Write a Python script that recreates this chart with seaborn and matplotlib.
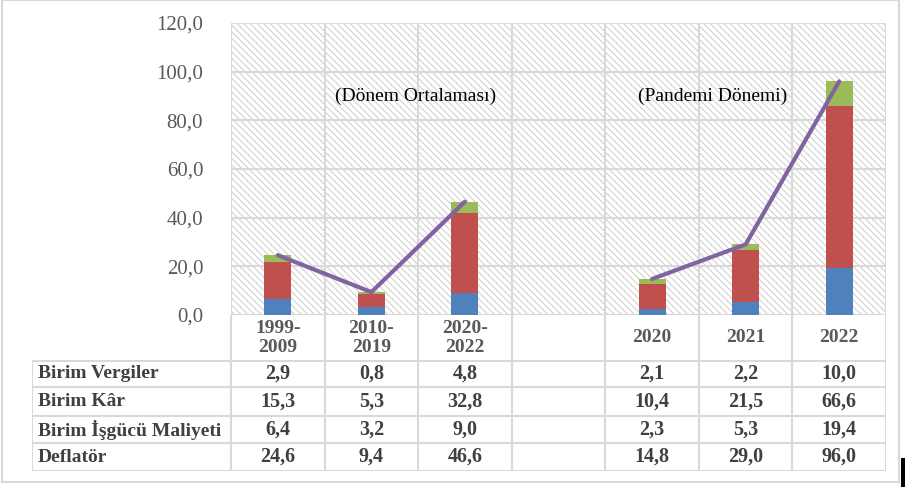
import seaborn as sns
import pandas as pd
import matplotlib.pyplot as plt
from matplotlib.patches import Rectangle

# data
categories = ["1999-\n2009", "2010-\n2019", "2020-\n2022", "", "2020", "2021", "2022"]
vergiler = [2.9, 0.8, 4.8, None, 2.1, 2.2, 10.0]
kar = [15.3, 5.3, 32.8, None, 10.4, 21.5, 66.6]
isgucu = [6.4, 3.2, 9.0, None, 2.3, 5.3, 19.4]
deflator = [24.6, 9.4, 46.6, None, 14.8, 29.0, 96.0]
line_groups = ["ort", "ort", "ort", None, "pan", "pan", "pan"]
row_labels = ["Birim Vergiler", "Birim Kâr", "Birim İşgücü Maliyeti", "Deflatör"]
y_ticks = [0, 20, 40, 60, 80, 100, 120]

blue = "#4F81BD"
red = "#C0504D"
green = "#9BBB59"
purple = "#8064A2"
grid = "#D9D9D9"
txt = "#595959"

sns.set_style("white")
plt.rcParams['font.family'] = ['Liberation Serif', 'DejaVu Serif']
plt.rcParams['hatch.linewidth'] = 0.7

W, H = 906, 487
fig = plt.figure(figsize=(W / 100, H / 100), dpi=100)

# pixel layout
pl, pr, pt, pb = 231, 886, 23, 315
ax = fig.add_axes([pl / W, 1 - pb / H, (pr - pl) / W, (pb - pt) / H])

df = pd.DataFrame({
    "cat": categories,
    "isgucu": isgucu,
    "kar": kar,
    "vergiler": vergiler,
}).fillna(0)
df["b1"] = df["isgucu"]
df["b2"] = df["isgucu"] + df["kar"]

bw = 0.29
sns.barplot(data=df, x="cat", y="isgucu", order=categories, color=blue,
            width=bw, linewidth=0, saturation=1, ax=ax, zorder=3)
sns.barplot(data=df, x="cat", y="kar", order=categories, color=red,
            width=bw, linewidth=0, saturation=1, bottom=df["b1"].values, ax=ax, zorder=3)
sns.barplot(data=df, x="cat", y="vergiler", order=categories, color=green,
            width=bw, linewidth=0, saturation=1, bottom=df["b2"].values, ax=ax, zorder=3)

df_line = pd.DataFrame({
    "pos": range(len(categories)),
    "deflator": deflator,
    "grup": line_groups,
}).dropna()
sns.lineplot(data=df_line, x="pos", y="deflator", units="grup", estimator=None,
             color=purple, linewidth=3, ax=ax, zorder=4)

n = len(categories)
ax.set_xlim(-0.5, n - 0.5)
ax.set_ylim(0, 120)
ax.set_yticks(y_ticks)
ax.set_yticklabels([f"{v:.1f}".replace(".", ",") for v in y_ticks])
ax.set_xticks([])
ax.set_xlabel("")
ax.set_ylabel("")
ax.tick_params(axis="y", length=0, pad=20, labelsize=15, labelcolor=txt)

# hatched background
ax.add_patch(Rectangle((0, 0), 1, 1, transform=ax.transAxes, facecolor="white",
                       edgecolor="#CCCCCC", hatch="\\\\\\\\\\", linewidth=0, zorder=0))
for v in y_ticks:
    ax.axhline(v, color=grid, linewidth=1.5, zorder=1)
for i in range(n + 1):
    ax.axvline(i - 0.5, color=grid, linewidth=1.5, zorder=1)
for s in ax.spines.values():
    s.set_visible(False)

ax.text(1.47, 90, "(Dönem Ortalaması)", ha="center", va="center", fontsize=14, color="black")
ax.text(4.65, 90, "(Pandemi Dönemi)", ha="center", va="center", fontsize=14, color="black")

# data table below
tl, tr, tt, tb = 32, 886, 315, 471
tab = fig.add_axes([tl / W, 1 - tb / H, (tr - tl) / W, (tb - tt) / H])
cw = (pr - pl) / n
lab_w = (pl - tl) / cw
tab.set_xlim(-0.5 - lab_w, n - 0.5)
row_h = [46, 26, 29, 27, 28]
edges = [0]
for h in row_h:
    edges.append(edges[-1] + h)
tab.set_ylim(edges[-1], 0)
tab.axis("off")

lc = dict(color=grid, linewidth=1.5)
for i in range(n + 1):
    tab.plot([i - 0.5, i - 0.5], [0, edges[-1]], **lc)
tab.plot([-0.5 - lab_w, -0.5 - lab_w], [edges[1], edges[-1]], **lc)
for e in edges[1:]:
    tab.plot([-0.5 - lab_w, n - 0.5], [e, e], **lc)

for i, c in enumerate(categories):
    tab.text(i, edges[1] / 2, c, ha="center", va="center", fontsize=14,
             fontweight="bold", color=txt, linespacing=1.2)

table_rows = [vergiler, kar, isgucu, deflator]
for r, (lab, vals) in enumerate(zip(row_labels, table_rows)):
    yc = (edges[r + 1] + edges[r + 2]) / 2
    tab.text(-0.5 - lab_w + 0.06, yc, lab, ha="left", va="center", fontsize=14,
             fontweight="bold", color="#404040")
    for i, v in enumerate(vals):
        if v is None:
            continue
        tab.text(i, yc, f"{v:.1f}".replace(".", ","), ha="center", va="center",
                 fontsize=14.5, fontweight="bold", color="#404040")

# outer frame and edge mark
fig.patches.append(Rectangle((2 / W, 1 - 482 / H), 897 / W, 482 / H, transform=fig.transFigure,
                             fill=False, edgecolor=grid, linewidth=1.5))
fig.patches.append(Rectangle((901 / W, 0), 3.5 / W, 29 / H, transform=fig.transFigure,
                             facecolor="black", edgecolor="none"))

fig.savefig("out.png", dpi=100)
